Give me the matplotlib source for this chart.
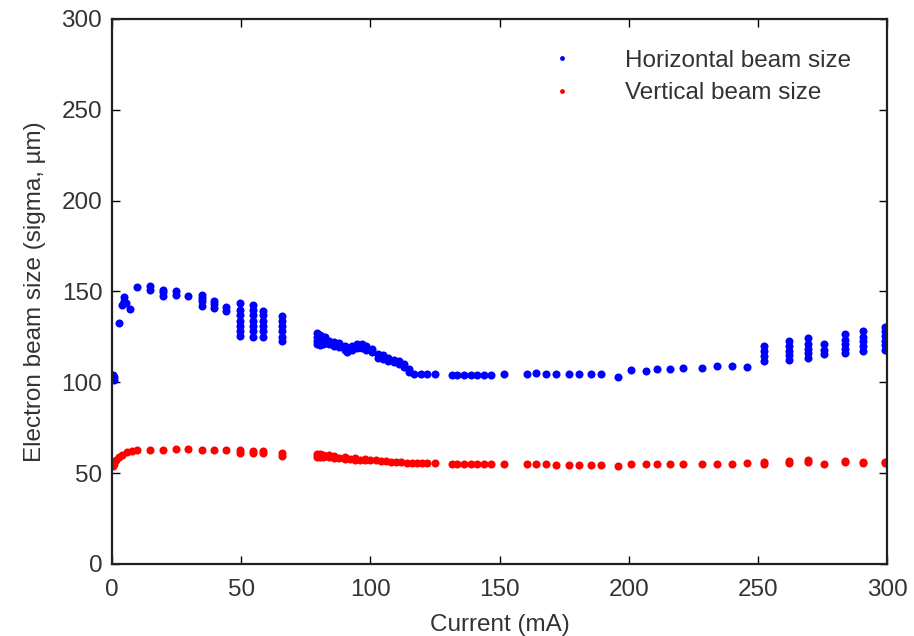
import matplotlib.pyplot as plt

plt.rcParams['font.family'] = ['Liberation Sans', 'DejaVu Sans']

# beam current (mA) per measurement column, and the sizes recorded at it
h_current = [0.3, 0.8, 2.7, 3.9, 4.6, 5.4, 7.0, 9.7, 14.7, 19.7, 24.8, 29.4,
             34.8, 39.5, 44.1, 49.5, 54.6, 58.5, 65.8, 79.5, 80.5, 81.5, 82.5,
             84, 86, 88, 90, 91, 93, 95, 96.8, 98.5, 100.6, 103, 105, 107,
             109, 111, 113, 115, 117, 119.5, 122, 125, 131.6, 133.5, 136.3,
             139, 141.3, 144, 146.7, 151.7, 160.6, 164, 168, 172, 177, 180.8,
             185.4, 189.3, 195.9, 201, 206.7, 211, 216, 221, 228.4, 234.2,
             240, 245.8, 252.4, 262, 269.4, 275.6, 283.7, 290.7, 299.2]
h_sizes = [[102, 104], [101.5, 103], [132.5], [142.5], [145, 147], [143.5],
           [140.5], [152.5], [151, 153], [147.5, 149.5, 151], [148, 150],
           [147.5], [142, 144.5, 146.5, 148], [141, 143, 145], [139.5, 141.5],
           [125.5, 128, 131, 134, 137, 140, 143.5],
           [125, 128, 131, 134, 137, 140, 142.5],
           [125, 128, 131, 134, 137, 139.5],
           [122.5, 125, 128, 131, 134, 136.5],
           [121, 123, 125, 127], [120.5, 122.5, 124.5, 126], [121, 123, 125],
           [121.5, 123.5, 125], [121, 123], [120, 122], [119.5, 121.5],
           [118, 120], [116.5, 118], [118, 120], [119, 121], [119, 121],
           [118, 120], [116.5, 118.5], [113.5, 115.5], [113, 115],
           [112, 113.5], [111, 112.5], [110, 111.5], [108.5, 110],
           [105.5, 107.5], [104.5], [104.5], [104.5], [104.5],
           [104], [104], [104], [104], [104], [104], [104], [104.5],
           [104.5], [105], [104.5], [104.5], [104.5], [104.5], [104.5],
           [104.5], [103], [107], [106.5], [107.5], [107.5], [108], [108],
           [109], [109], [108.5], [112, 114.5, 117, 120],
           [112.5, 115, 117.5, 120, 123], [113.5, 116, 118.5, 121, 124.5],
           [115.5, 118, 121], [116, 118.5, 121, 123.5, 126.5],
           [117.5, 120, 122.5, 125, 128],
           [118, 120.5, 123, 125.5, 128.5, 130.5]]

v_current = [0.3, 0.8, 1.5, 2.7, 3.9, 5.8, 7.7, 9.7, 14.7, 19.7, 24.8, 29.4,
             34.8, 39.5, 44.1, 49.5, 54.6, 58.5, 65.8, 79.5, 80.5, 81.5, 82.5,
             84, 86, 88, 90, 92, 94, 96, 98, 100, 102, 104, 106, 108, 110,
             112, 114, 116, 118, 120, 122, 125, 131.6, 133.5, 136.3, 139,
             141.3, 144, 146.7, 151.7, 160.6, 164, 168, 172, 177, 180.8,
             185.4, 189.3, 195.9, 201, 206.7, 211, 216, 221, 228.4, 234.2,
             240, 245.8, 252.4, 262, 269.4, 275.6, 283.7, 290.7, 299.2]
v_sizes = [[54, 56], [55], [57.5], [59], [60], [61.5], [62], [63], [62.5],
           [62.5], [63.5], [63.5], [63], [63], [62.5], [61, 62.5], [61, 62],
           [61, 62], [59.5, 61], [59, 60.5], [59, 60.5], [59, 60], [59.5],
           [59, 60], [58.5, 59.5], [58.5], [58, 59], [58], [57.5, 58.5],
           [57.5], [57, 58], [57.5], [57], [56.5], [56.5], [56], [56], [56],
           [55.5], [55.5], [55.5], [55.5], [55.5], [55.5],
           [55.2], [55.2], [54.8], [55.2], [55.2], [55.2], [55.2], [55.2],
           [55.2], [55.2], [55], [54.5], [54.5], [54.6], [54.5], [54.3],
           [54], [54.8], [55.2], [55.2], [55], [55.2], [55.2], [55], [55.2],
           [55.8], [55.2, 56], [55.5, 56.5], [56, 57], [55], [56, 56.5],
           [55.5, 56.3], [55.5, 56]]


def flatten(currents, sizes):
    xs, ys = [], []
    for c, col in zip(currents, sizes):
        xs.extend([c] * len(col))
        ys.extend(col)
    return xs, ys


hx, hy = flatten(h_current, h_sizes)
vx, vy = flatten(v_current, v_sizes)

fig = plt.figure(figsize=(9.14, 6.36), dpi=100)
ax = fig.add_axes([112 / 914, 72 / 636, 775 / 914, 545 / 636])

ax.plot(hx, hy, 'o', color='#0000ff', ms=5.8, mec='none',
        label='Horizontal beam size')
ax.plot(vx, vy, 'o', color='#ff0000', ms=5.8, mec='none',
        label='Vertical beam size')

ax.set_xlim(0, 300)
ax.set_ylim(0, 300)
ax.set_xticks(range(0, 301, 50))
ax.set_yticks(range(0, 301, 50))
ax.tick_params(direction='in', length=6, width=1, top=True, right=True,
               labelsize=17.5, labelcolor='#333333')
ax.tick_params(axis='x', pad=11)
ax.tick_params(axis='y', pad=7)
for s in ax.spines.values():
    s.set_linewidth(1.6)
    s.set_color('#202020')

ax.set_xlabel('Current (mA)', fontsize=17.5, color='#333333', labelpad=9)
ax.set_ylabel('Electron beam size (sigma, µm)', fontsize=17.5,
              color='#333333', labelpad=11)

ax.legend(loc='upper left', bbox_to_anchor=(0.549, 0.944), frameon=False,
          fontsize=17.5, markerscale=0.6, handlelength=2.0,
          handletextpad=1.6, labelspacing=0.45, borderpad=0,
          borderaxespad=0, labelcolor='#333333')

fig.savefig('out.png', dpi=100)
